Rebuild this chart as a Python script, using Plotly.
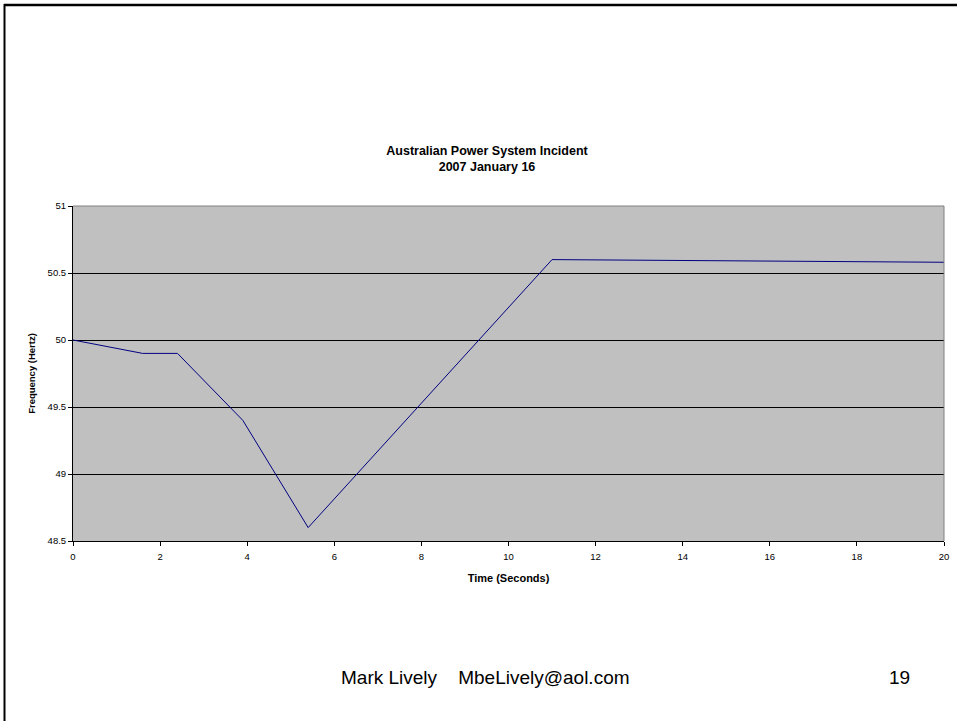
import plotly.graph_objects as go

# Frequency trace of the 16 January 2007 incident
time_s = [0, 1.6, 2.4, 3.9, 5.4, 11.0, 20.0]
freq_hz = [50.0, 49.9, 49.9, 49.4, 48.6, 50.6, 50.58]

x_ticks = [0, 2, 4, 6, 8, 10, 12, 14, 16, 18, 20]
y_ticks = [48.5, 49, 49.5, 50, 50.5, 51]

W, H = 957, 721
L, R, T, B = 73, 13, 206, 180
FONT = "Arial, Liberation Sans, sans-serif"

fig = go.Figure()
fig.add_trace(go.Scatter(
    x=time_s, y=freq_hz, mode="lines",
    line=dict(color="#000080", width=1),
    hoverinfo="x+y", showlegend=False,
))

pw = W - L - R
ph = H - T - B


def px_x(px):
    return (px - L) / pw


def px_y(py):
    return 1 - (py - T) / ph


fig.update_layout(
    width=W, height=H,
    margin=dict(l=L, r=R, t=T, b=B, autoexpand=False),
    paper_bgcolor="white",
    plot_bgcolor="#C0C0C0",
    font=dict(family=FONT, color="black"),
    title=dict(
        text="<b>Australian Power System Incident<br>2007 January 16</b>",
        font=dict(size=12.5, family=FONT, color="black"),
        x=487 / W, xref="container", xanchor="center",
        y=1 - 155 / H, yref="container", yanchor="middle",
    ),
    xaxis=dict(
        range=[0, 20], tickvals=x_ticks, ticktext=[str(v) for v in x_ticks],
        showgrid=False, zeroline=False,
        showline=True, linecolor="black", linewidth=1,
        ticks="outside", ticklen=4, tickcolor="black", tickwidth=1,
        ticklabelstandoff=3,
        tickfont=dict(size=9.5, family=FONT, color="black"),
        title=dict(text="<b>Time (Seconds)</b>", standoff=12,
                   font=dict(size=11, family=FONT, color="black")),
    ),
    yaxis=dict(
        range=[48.5, 51], tickvals=y_ticks,
        ticktext=[("%g" % v) for v in y_ticks],
        showgrid=True, gridcolor="black", gridwidth=1,
        zeroline=False,
        showline=True, linecolor="black", linewidth=1,
        ticks="outside", ticklen=4, tickcolor="black", tickwidth=1,
        tickfont=dict(size=9.5, family=FONT, color="black"),
        title=dict(text="<b>Frequency (Hertz)</b>", standoff=10,
                   font=dict(size=9.5, family=FONT, color="black")),
    ),
    shapes=[
        # grey frame on the top and right of the plot area
        dict(type="line", xref="paper", yref="paper", x0=0, x1=1, y0=1, y1=1,
             line=dict(color="#808080", width=1), layer="above"),
        dict(type="line", xref="paper", yref="paper", x0=1, x1=1, y0=0, y1=1,
             line=dict(color="#808080", width=1), layer="above"),
        # slide border (top and left edges)
        dict(type="line", xref="paper", yref="paper",
             x0=px_x(4), x1=px_x(960), y0=px_y(5), y1=px_y(5),
             line=dict(color="black", width=2.5), layer="above"),
        dict(type="line", xref="paper", yref="paper",
             x0=px_x(4.5), x1=px_x(4.5), y0=px_y(4), y1=px_y(725),
             line=dict(color="black", width=2), layer="above"),
    ],
    annotations=[
        dict(text="Mark Lively    MbeLively@aol.com", xref="paper", yref="paper",
             x=px_x(485.5), y=px_y(677), xanchor="center", yanchor="middle",
             showarrow=False, font=dict(size=19, family=FONT, color="black")),
        dict(text="19", xref="paper", yref="paper",
             x=px_x(899), y=px_y(677), xanchor="center", yanchor="middle",
             showarrow=False, font=dict(size=19, family=FONT, color="black")),
    ],
)

fig.write_html("out.html")
